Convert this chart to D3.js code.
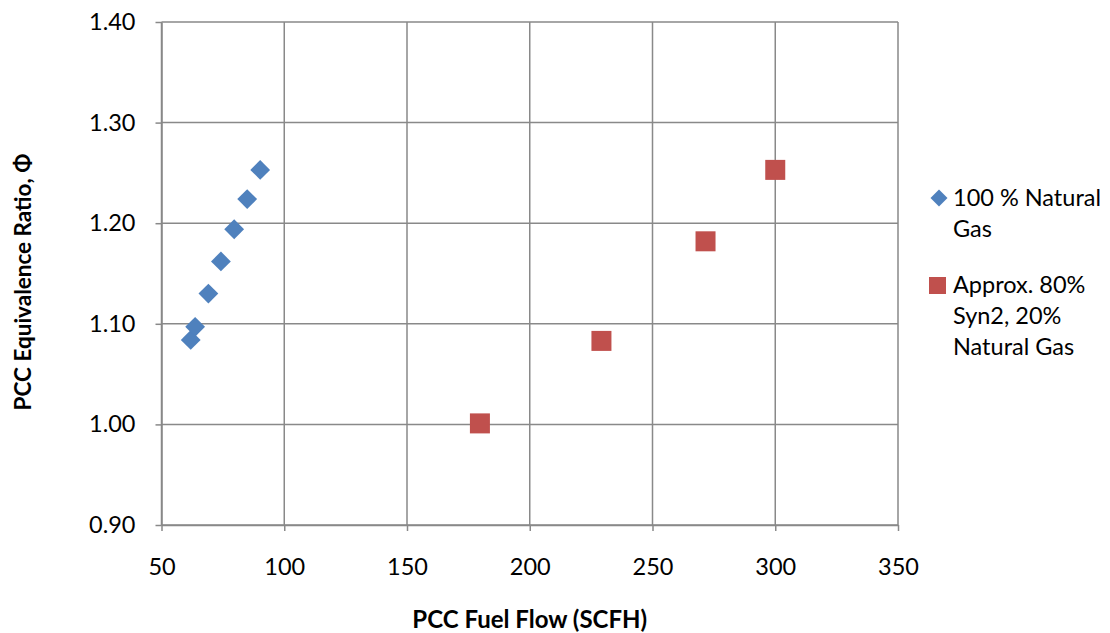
<!DOCTYPE html>
<html>
<head>
<meta charset="utf-8">
<script src="https://cdn.jsdelivr.net/npm/d3@7"></script>
<style>
  body { margin: 0; background: #fff; }
  #chart { width: 1110px; height: 633px; }
  text { font-family: Lato, "Open Sans", sans-serif; fill: #000; }
</style>
</head>
<body>
<div id="chart"></div>
<script>
// 100 % natural gas
var ngFlow  = [61.9, 63.7, 69.1, 74.2, 79.6, 84.9, 90.2];
var ngPhi   = [1.084, 1.097, 1.130, 1.162, 1.194, 1.224, 1.253];
// approx. 80% Syn2, 20% natural gas
var synFlow = [179.7, 229.2, 271.6, 300.0];
var synPhi  = [1.001, 1.083, 1.182, 1.253];

var xTicks = [50, 100, 150, 200, 250, 300, 350];
var yTicks = [0.9, 1.0, 1.1, 1.2, 1.3, 1.4];

(function(){
    var margin = { top: 22, right: 212, bottom: 108, left: 161.5 };
    var totalWidth = 1110, totalHeight = 633;
    var width = totalWidth - margin.left - margin.right;
    var height = totalHeight - margin.top - margin.bottom;

    var svg = d3.select('#chart')
        .append('svg')
        .attr('width', totalWidth)
        .attr('height', totalHeight)
        .append('g')
        .attr('transform', 'translate(' + margin.left + ',' + margin.top + ')');

    var x = d3.scaleLinear().domain([50, 350]).range([0, width]);
    var y = d3.scaleLinear().domain([0.9, 1.4]).range([height, 0]);

    var gridColor = '#898989';

    // gridlines
    svg.append('g').selectAll('line.h')
        .data(yTicks).enter().append('line')
        .attr('x1', 0).attr('x2', width)
        .attr('y1', function(d){ return y(d); })
        .attr('y2', function(d){ return y(d); })
        .attr('stroke', gridColor).attr('stroke-width', 1.5);
    svg.append('g').selectAll('line.v')
        .data(xTicks).enter().append('line')
        .attr('y1', 0).attr('y2', height)
        .attr('x1', function(d){ return x(d); })
        .attr('x2', function(d){ return x(d); })
        .attr('stroke', gridColor).attr('stroke-width', 1.5);

    // axes
    var xAxis = d3.axisBottom(x).tickValues(xTicks).tickFormat(d3.format('d'))
        .tickSize(6).tickPadding(27).tickSizeOuter(0);
    var yAxis = d3.axisLeft(y).tickValues(yTicks).tickFormat(d3.format('.2f'))
        .tickSize(6).tickPadding(20).tickSizeOuter(0);

    var xg = svg.append('g').attr('transform', 'translate(0,' + height + ')').call(xAxis);
    var yg = svg.append('g').call(yAxis);
    [xg, yg].forEach(function(g){
        g.select('.domain').attr('stroke', gridColor).attr('stroke-width', 1.5);
        g.selectAll('.tick line').attr('stroke', gridColor).attr('stroke-width', 1.5);
        g.selectAll('text').style('font-size', '23.5px').style('font-family', 'Lato, sans-serif').attr('fill', '#000');
    });

    // points
    var blue = '#4F81BD', red = '#C0504D';
    var ngData = ngFlow.map(function(v, i){ return { x: v, y: ngPhi[i] }; });
    var synData = synFlow.map(function(v, i){ return { x: v, y: synPhi[i] }; });

    svg.append('g').selectAll('rect')
        .data(ngData).enter().append('rect')
        .attr('x', -7).attr('y', -7).attr('width', 14).attr('height', 14)
        .attr('transform', function(d){ return 'translate(' + x(d.x) + ',' + y(d.y) + ') rotate(45)'; })
        .attr('fill', blue);

    svg.append('g').selectAll('rect')
        .data(synData).enter().append('rect')
        .attr('x', function(d){ return x(d.x) - 10; })
        .attr('y', function(d){ return y(d.y) - 10; })
        .attr('width', 20).attr('height', 20)
        .attr('fill', red);

    // axis titles
    svg.append('text')
        .attr('x', width / 2).attr('y', height + 103)
        .attr('text-anchor', 'middle')
        .style('font-size', '24px').style('font-weight', 'bold')
        .text('PCC Fuel Flow (SCFH)');

    svg.append('text')
        .attr('transform', 'rotate(-90)')
        .attr('x', -(282 - margin.top)).attr('y', -131)
        .attr('text-anchor', 'middle')
        .style('font-size', '22.5px').style('font-weight', 'bold')
        .text('PCC Equivalence Ratio, \u03a6');

    // legend
    var legend = d3.select('#chart svg').append('g');
    var lx = 953, lh = 31;
    legend.append('rect')
        .attr('x', -6).attr('y', -6).attr('width', 12).attr('height', 12)
        .attr('transform', 'translate(939,198) rotate(45)')
        .attr('fill', blue);
    ['100 % Natural', 'Gas'].forEach(function(t, i){
        legend.append('text').attr('x', lx).attr('y', 206 + i * lh)
            .style('font-size', '23.5px').text(t);
    });
    legend.append('rect')
        .attr('x', 929).attr('y', 277).attr('width', 17).attr('height', 17)
        .attr('fill', red);
    ['Approx. 80%', 'Syn2, 20%', 'Natural Gas'].forEach(function(t, i){
        legend.append('text').attr('x', lx).attr('y', 293 + i * lh)
            .style('font-size', '23.5px').text(t);
    });
})();
</script>
</body>
</html>
